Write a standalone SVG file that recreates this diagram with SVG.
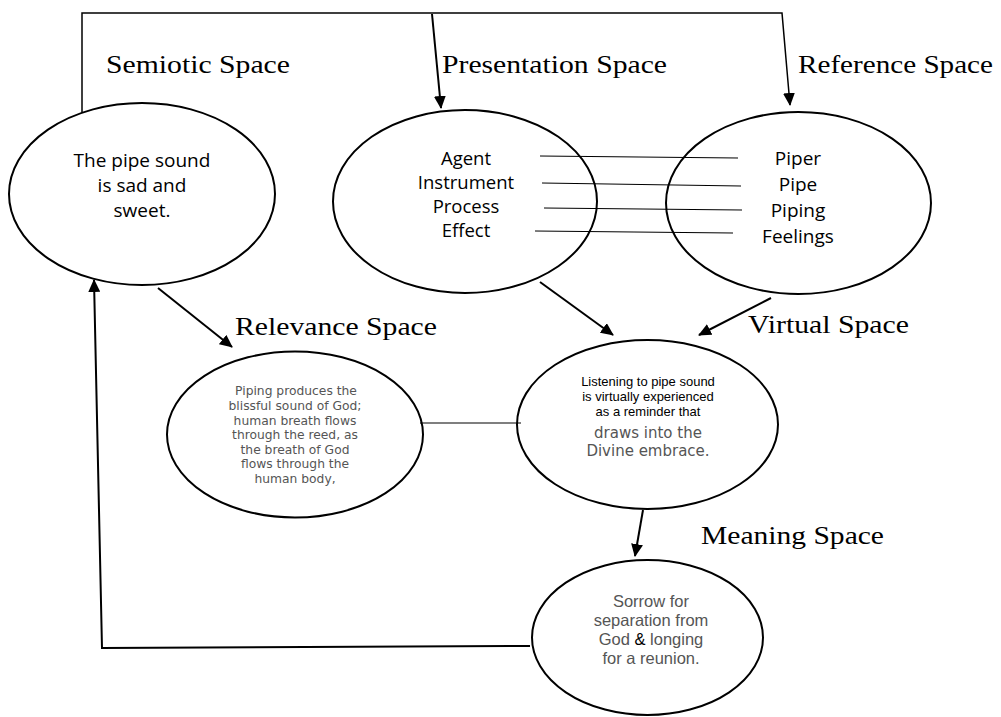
<svg xmlns="http://www.w3.org/2000/svg" width="1001" height="717" viewBox="0 0 1001 717">
<defs>
<style>
.node{fill:none;stroke:#000;stroke-width:2}
.conn{fill:none;stroke:#000;stroke-width:2}
.thin{fill:none;stroke:#000;stroke-width:1.2}
.lbl{font-family:"Liberation Serif","Times New Roman",serif;font-size:26px;fill:#000}
.cal{font-family:"Open Sans","Noto Sans",sans-serif;fill:#000;text-anchor:middle}
.sm{font-family:"Liberation Sans",Arial,sans-serif;fill:#000;text-anchor:middle;font-size:13px}
.ver{font-family:"DejaVu Sans",Verdana,sans-serif;fill:#555;text-anchor:middle}
.ari{font-family:"Liberation Sans",Arial,sans-serif;fill:#555;text-anchor:middle;font-size:16.5px}
</style>
<marker id="ah" viewBox="0 0 13 12" refX="12" refY="6" markerWidth="13" markerHeight="12" markerUnits="userSpaceOnUse" orient="auto">
<path d="M0,0 L13,6 L0,12 z" fill="#000"/>
</marker>
</defs>
<rect width="1001" height="717" fill="#fff"/>

<g id="connectors">
<path class="conn" d="M82,112 V13 H782 L790,105" marker-end="url(#ah)" style="stroke-width:1.5"/>
<path class="conn" d="M432,14 L441,108" marker-end="url(#ah)"/>
<path class="conn" d="M540,282 L613,335" marker-end="url(#ah)"/>
<path class="conn" d="M771,298 L699,335" marker-end="url(#ah)"/>
<path class="conn" d="M158,288 L232,347" marker-end="url(#ah)"/>
<path class="conn" d="M643,510 L635,556" marker-end="url(#ah)"/>
<path class="conn" d="M530,646 L102,648 L94,280" marker-end="url(#ah)"/>
<path class="thin" d="M420,423 L521,423"/>
<path class="thin" d="M540,156 L738,158"/>
<path class="thin" d="M542,183 L741,186"/>
<path class="thin" d="M544,208 L742,210"/>
<path class="thin" d="M535,231 L733,233"/>
</g>

<g id="labels">
<text class="lbl" x="106" y="73" textLength="184" lengthAdjust="spacingAndGlyphs">Semiotic Space</text>
<text class="lbl" x="442" y="73" textLength="225" lengthAdjust="spacingAndGlyphs">Presentation Space</text>
<text class="lbl" x="798" y="73" textLength="195" lengthAdjust="spacingAndGlyphs">Reference Space</text>
<text class="lbl" x="235" y="335" textLength="202" lengthAdjust="spacingAndGlyphs">Relevance Space</text>
<text class="lbl" x="748" y="333" textLength="161" lengthAdjust="spacingAndGlyphs">Virtual Space</text>
<text class="lbl" x="701" y="544" textLength="183" lengthAdjust="spacingAndGlyphs">Meaning Space</text>
</g>

<g id="semiotic">
<ellipse class="node" cx="142" cy="194" rx="133" ry="91"/>
<text class="cal" font-size="19" x="142" y="167">The pipe sound</text>
<text class="cal" font-size="19" x="142" y="192">is sad and</text>
<text class="cal" font-size="19" x="142" y="217">sweet.</text>
</g>

<g id="presentation">
<ellipse class="node" cx="465" cy="201.5" rx="132" ry="91.5"/>
<text class="cal" font-size="18.5" x="466" y="165">Agent</text>
<text class="cal" font-size="18.5" x="466" y="189">Instrument</text>
<text class="cal" font-size="18.5" x="466" y="213">Process</text>
<text class="cal" font-size="18.5" x="466" y="237">Effect</text>
</g>

<g id="reference">
<ellipse class="node" cx="798.5" cy="203" rx="132.5" ry="91"/>
<text class="cal" font-size="19" x="798" y="165">Piper</text>
<text class="cal" font-size="19" x="798" y="191">Pipe</text>
<text class="cal" font-size="19" x="798" y="217">Piping</text>
<text class="cal" font-size="19" x="798" y="243">Feelings</text>
</g>

<g id="relevance">
<ellipse class="node" cx="295" cy="434.5" rx="128" ry="83"/>
<text class="ver" font-size="12.3" x="296" y="395">Piping produces the</text>
<text class="ver" font-size="12.3" x="295" y="410">blissful sound of God;</text>
<text class="ver" font-size="12.3" x="295" y="424.5">human breath flows</text>
<text class="ver" font-size="12.3" x="295" y="439">through the reed, as</text>
<text class="ver" font-size="12.3" x="295" y="453.5">the breath of God</text>
<text class="ver" font-size="12.3" x="295" y="468">flows through the</text>
<text class="ver" font-size="12.3" x="295" y="482.5">human body,</text>
</g>

<g id="virtual">
<ellipse class="node" cx="647.5" cy="424.5" rx="130.5" ry="84.5"/>
<text class="sm" x="648" y="386">Listening to pipe sound</text>
<text class="sm" x="648" y="401">is virtually experienced</text>
<text class="sm" x="648" y="416">as a reminder that</text>
<text class="ver" font-size="15" x="648" y="438">draws into the</text>
<text class="ver" font-size="15" x="648" y="456">Divine embrace.</text>
</g>

<g id="meaning">
<ellipse class="node" cx="647.5" cy="637.5" rx="115.5" ry="77.5"/>
<text class="ari" x="651" y="607">Sorrow for</text>
<text class="ari" x="651" y="626">separation from</text>
<text class="ari" x="651" y="645">God <tspan fill="#000">&amp;</tspan> longing</text>
<text class="ari" x="651" y="664">for a reunion.</text>
</g>
</svg>
